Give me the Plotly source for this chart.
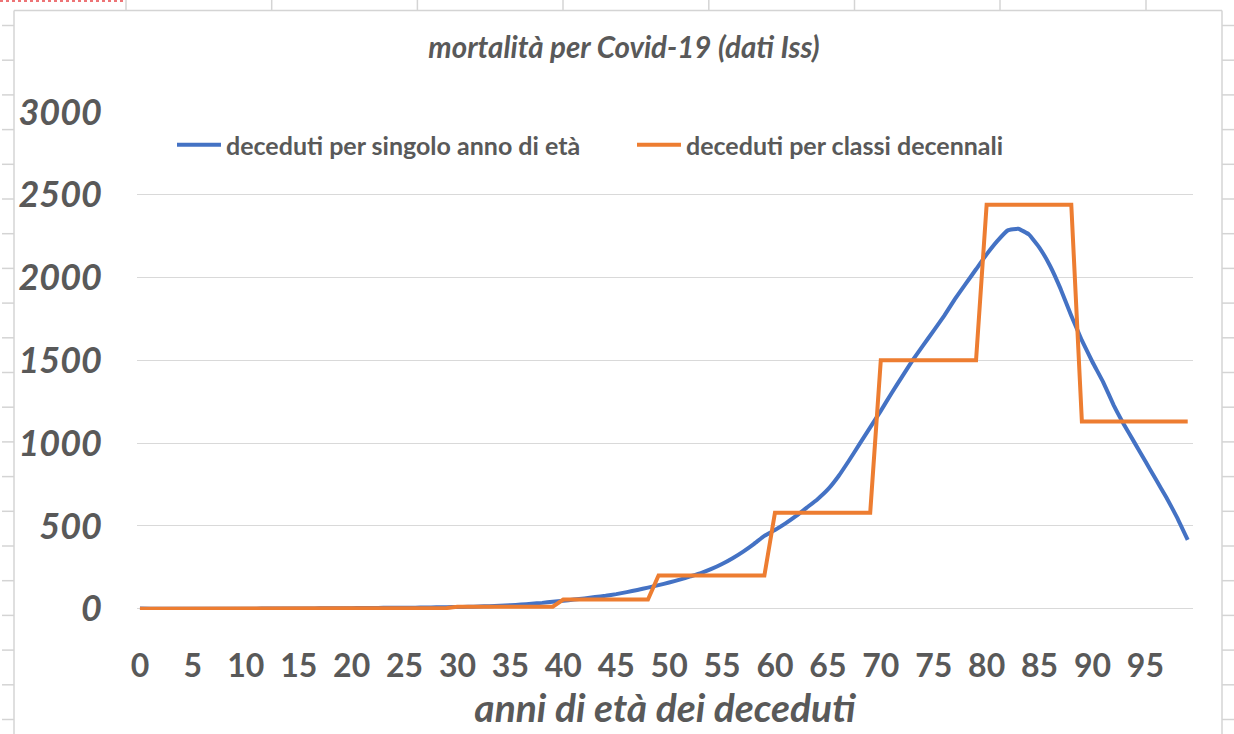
import plotly.graph_objects as go

ages = list(range(100))

deceduti_singolo = [
    1, 0, 0, 0, 0, 0, 0, 0, 0, 0,
    0, 0, 1, 1, 1, 1, 1, 2, 2, 3,
    3, 4, 4, 5, 5, 6, 6, 7, 8, 9,
    10, 11, 13, 15, 18, 21, 25, 30, 35, 42,
    48, 55, 62, 70, 78, 88, 100, 113, 127, 142,
    158, 175, 195, 215, 240, 270, 305, 345, 390, 440,
    475, 515, 560, 610, 660, 720, 800, 895, 995, 1095,
    1195, 1300, 1400, 1500, 1590, 1680, 1770, 1870, 1960, 2050,
    2140, 2220, 2285, 2295, 2260, 2180, 2070, 1930, 1770, 1620,
    1490, 1370, 1230, 1110, 1000, 890, 780, 670, 550, 415,
]

deceduti_classi = (
    [0] * 20 + [4] * 10 + [12] * 10 + [55] * 9 + [200] * 11
    + [580] * 10 + [1500] * 10 + [2440] * 9 + [1130] * 11
)

x_tick_vals = list(range(0, 100, 5))
y_tick_vals = [0, 500, 1000, 1500, 2000, 2500, 3000]

TITLE = "mortalità per Covid-19 (dati Iss)"
X_TITLE = "anni di età dei deceduti"
NAME_1 = "deceduti per singolo anno di età"
NAME_2 = "deceduti per classi decennali"

W, H = 1234, 734
PL, PR, PT, PB = 137, 1193, 112, 610
FONT = "Lato"
GREY = "#595959"


def px(x):
    return (x - PL) / (PR - PL)


def py(y):
    return (PB - y) / (PB - PT)


fig = go.Figure()
fig.add_trace(go.Scatter(
    x=ages, y=deceduti_singolo, mode="lines", name=NAME_1,
    line=dict(color="#4472C4", width=4, shape="spline", smoothing=0.3),
))
fig.add_trace(go.Scatter(
    x=ages, y=deceduti_classi, mode="lines", name=NAME_2,
    line=dict(color="#ED7D31", width=4),
))

shapes = []
border = "#D4D4D4"
shapes.append(dict(type="line", xref="paper", yref="paper",
                   x0=px(14), x1=px(1222), y0=py(10.5), y1=py(10.5),
                   line=dict(color=border, width=1.5)))
shapes.append(dict(type="line", xref="paper", yref="paper",
                   x0=px(14), x1=px(14), y0=py(10.5), y1=py(734),
                   line=dict(color=border, width=1.5)))
shapes.append(dict(type="line", xref="paper", yref="paper",
                   x0=px(1222), x1=px(1222), y0=py(10.5), y1=py(734),
                   line=dict(color=border, width=1.5)))
for cx in [126, 271.7, 417.4, 563, 708.8, 854.5, 1000, 1146]:
    shapes.append(dict(type="line", xref="paper", yref="paper",
                       x0=px(cx), x1=px(cx), y0=py(0), y1=py(10),
                       line=dict(color=border, width=1.5)))
ry = 25.5
while ry < 734:
    shapes.append(dict(type="line", xref="paper", yref="paper",
                       x0=px(2), x1=px(14), y0=py(ry), y1=py(ry),
                       line=dict(color=border, width=1.5)))
    shapes.append(dict(type="line", xref="paper", yref="paper",
                       x0=px(1222), x1=px(1234), y0=py(ry), y1=py(ry),
                       line=dict(color=border, width=1.5)))
    ry += 34.7
shapes.append(dict(type="line", xref="paper", yref="paper",
                   x0=px(0), x1=px(125), y0=py(1), y1=py(1),
                   line=dict(color="#E8474A", width=1.5, dash="dot")))

fig.update_layout(
    width=W, height=H,
    margin=dict(l=PL, r=W - PR, t=PT, b=H - PB, pad=0),
    paper_bgcolor="white", plot_bgcolor="white",
    font=dict(family=FONT, color=GREY),
    title=dict(
        text=TITLE, x=624 / W, xref="container", xanchor="center",
        y=1 - 48 / H, yref="container", yanchor="middle",
        font=dict(family=FONT, size=29.5, color=GREY, style="italic", weight="bold"),
    ),
    showlegend=True,
    legend=dict(
        orientation="h", x=px(172), y=py(145), xanchor="left", yanchor="middle",
        font=dict(family=FONT, size=25, color=GREY, weight="bold"),
        itemwidth=44, entrywidth=401, bgcolor="rgba(0,0,0,0)", tracegroupgap=0,
    ),
    shapes=shapes,
)
fig.update_xaxes(
    range=[-0.28, 99.5], tickvals=x_tick_vals, showgrid=False, zeroline=False,
    showline=False, ticks="", ticklabelstandoff=34,
    tickfont=dict(family=FONT, size=32, color=GREY, weight="bold"),
    title=dict(text=X_TITLE, standoff=4,
               font=dict(family=FONT, size=39, color=GREY, style="italic", weight="bold")),
)
fig.update_yaxes(
    range=[-8, 3000], tickvals=y_tick_vals, showgrid=True, gridcolor="#D9D9D9",
    gridwidth=1.3, zeroline=False, showline=False, ticks="", ticklabelstandoff=34,
    tickfont=dict(family=FONT, size=36, color=GREY, style="italic", weight="bold"),
)

fig.write_html("out.html", config={"displayModeBar": False},
               post_script="document.body.style.margin='0';")
